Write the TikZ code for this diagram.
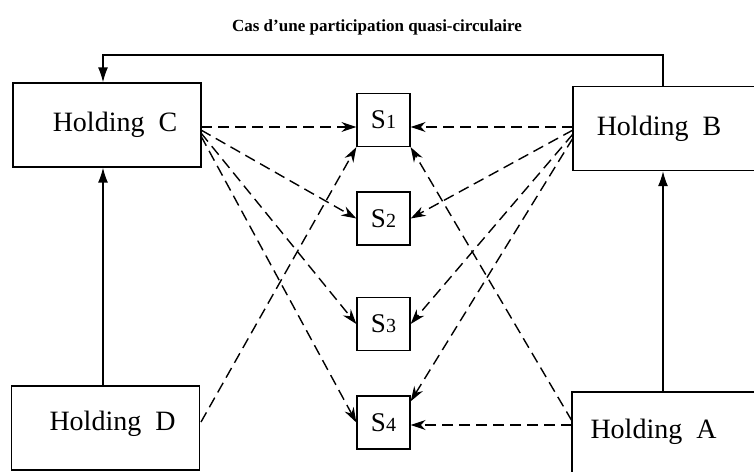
\documentclass[tikz,border=0pt]{standalone}
\usepackage{fontspec}
\setmainfont{Liberation Serif}
\usetikzlibrary{arrows.meta}
\begin{document}
\begin{tikzpicture}[x=1pt,y=-1pt,
  holding/.style={draw,line width=1.3pt,minimum width=188pt,minimum height=84pt,inner sep=0pt,font=\fontsize{28}{30}\selectfont},
  sbox/.style={draw,line width=1.3pt,minimum width=53pt,minimum height=53pt,inner sep=0pt,font=\fontsize{27}{30}\selectfont},
  solidarrow/.style={line width=1.4pt,-{Latex[length=15pt,width=10pt]}},
  dasharrow/.style={line width=1.4pt,dash pattern=on 11pt off 6pt,-{Stealth[length=15pt,width=10pt]}}]
\useasboundingbox (0,0) rectangle (754,471);
\clip (0,0) rectangle (754,471);
\node[font=\bfseries\fontsize{17}{20}\selectfont] (title) at (377,27) {Cas d’une participation quasi-circulaire};
\node[holding] (C) at (107,125) {\hspace{16pt}Holding~~C};
\node[holding] (D) at (105.5,428) {\hspace{14pt}\raisebox{14pt}{Holding~~D}};
\node[holding,minimum width=190pt] (B) at (668,128.5) {\hspace{-18pt}Holding~~B};
\node[holding,minimum width=190pt,minimum height=100pt] (A) at (667,442) {\hspace{-27pt}\raisebox{26pt}{Holding~~A}};
\node[sbox] (S1) at (383.5,120) {S{\fontsize{20}{22}\selectfont 1}};
\node[sbox] (S2) at (383.5,218.5) {S{\fontsize{20}{22}\selectfont 2}};
\node[sbox] (S3) at (383.5,324) {S{\fontsize{20}{22}\selectfont 3}};
\node[sbox] (S4) at (383.5,422.5) {S{\fontsize{20}{22}\selectfont 4}};
% solid connectors
\coordinate (bt) at (663,55);
\coordinate (ct) at (103,55);
\draw[solidarrow] (B.north -| bt) -- (bt) -- (ct) -- (C.north -| ct);
\draw[solidarrow] (D.north -| ct) -- (C.south -| ct);
\draw[solidarrow] (A.north -| bt) -- (B.south -| bt);
% dashed from C
\coordinate (cr) at (201,127);
\draw[dasharrow] (cr) -- (S1.west |- cr);
\draw[dasharrow] (201,130) -- (S2.west);
\draw[dasharrow] (201,133) -- (S3.west);
\draw[dasharrow] (201,136) -- (S4.west);
% dashed from B
\draw[dasharrow] (573,127) -- (S1.east |- cr);
\draw[dasharrow] (573,130) -- (S2.east);
\draw[dasharrow] (573,134) -- (S3.east);
\draw[dasharrow] (573,138) -- ([yshift=-6pt]S4.north east);
% dashed from D and A
\draw[dasharrow] (201,422) -- (S1.south west);
\draw[dasharrow] (572,425) -- (S4.east |- 0,425);
\draw[dasharrow] (572,421) -- (S1.south east);
\end{tikzpicture}
\end{document}
